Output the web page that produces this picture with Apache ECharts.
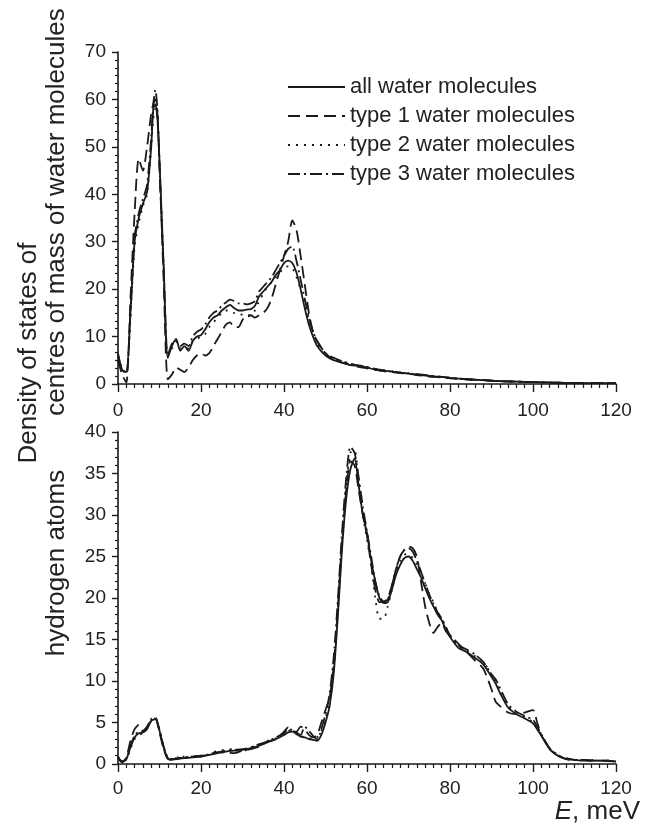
<!DOCTYPE html>
<html>
<head>
<meta charset="utf-8">
<script src="https://cdn.jsdelivr.net/npm/echarts@6/dist/echarts.min.js"></script>
<style>
html,body{margin:0;padding:0;background:#fff;}
#chart{width:651px;height:825px;}
</style>
</head>
<body>
<div id="chart"></div>
<script>
// ---------- DATA ----------
const seriesNames = ["all water molecules", "type 1 water molecules", "type 2 water molecules", "type 3 water molecules"];
const xTicks = [0, 20, 40, 60, 80, 100, 120];
const yTicksTop = [0, 10, 20, 30, 40, 50, 60, 70];
const yTicksBottom = [0, 5, 10, 15, 20, 25, 30, 35, 40];

// Top panel: centres of mass of water molecules
const E_top = [0,1,2,3,4,5,6,7,8,8.5,9,9.5,10,11,12,13,14,15,16,17,18,19,20,21,22,23,24,25,26,27,28,29,30,31,32,33,34,35,36,37,38,39,40,41,42,43,44,45,46,47,48,50,52,54,56,58,60,62,64,66,68,70,72,74,76,78,80,84,88,92,96,100,105,110,115,120];
const top_all = [6.5,3,2.5,15,30,35,38,40.5,50,58,59,56,47,25,5.5,8,9.5,7,8,7,9,10,10.3,11.5,13,14,14.5,15.5,16.2,16.7,16,15.5,15.5,15.7,15.8,16.5,18.5,19.5,20.5,21.5,23,24,25.5,26,25.5,23.5,20,16,12.5,10,8,6,5,4.5,4,3.8,3.5,3,2.8,2.6,2.4,2.2,2,1.8,1.6,1.5,1.3,1.0,0.8,0.6,0.5,0.4,0.3,0.2,0.2,0.2];
const top_type1 = [5,2,0.3,18,36,47.5,45,50,57,59,60,57,46,22,1,2,3.5,3,2.5,3.5,5,6,6.5,6,6.5,8,9.5,11,12.5,13,12,12,13.5,14.5,14.5,14,14.5,15,16,18,21,24,27,30,34.5,32.5,27,21,15,11,9,6.5,5,4.5,4,3.6,3.3,3,2.7,2.5,2.3,2.2,1.9,1.7,1.5,1.4,1.2,1.0,0.8,0.6,0.5,0.4,0.3,0.2,0.2,0.2];
const top_type2 = [6,3,2,14,29,34,37.5,40,50,56,58,56,47,25,6,7.5,9,7.5,7.5,7.5,9,9.5,10,10.5,12,13,14,15,15.5,15.5,15,15,14.5,14.2,14.5,15.5,17.5,19,20.5,21.5,22.5,23.5,24.5,24.8,24.5,22.5,20,17,13.5,11,8.5,6.5,5.2,4.7,4.2,3.9,3.5,3.2,2.9,2.7,2.4,2.3,2.0,1.8,1.6,1.5,1.3,1.0,0.8,0.6,0.5,0.4,0.3,0.2,0.2,0.2];
const top_type3 = [6,3,2.5,15,31,36,39,42,52,59,62,58,46,24,6,8.5,9,8,8.5,8,10,11,11.5,12.5,14,15,15.5,16.5,17.2,17.8,17.5,17,17,16.8,17,17.5,19.5,20.5,21.5,22.5,24,25.5,27,28.5,29,26,22,18,14,11,9,6.5,5.5,4.8,4.3,3.9,3.6,3.2,2.9,2.6,2.4,2.2,2.1,1.9,1.7,1.5,1.3,1.0,0.8,0.6,0.5,0.4,0.3,0.2,0.2,0.2];

// Bottom panel: hydrogen atoms
const E_bot = [0,1,2,3,4,5,6,7,8,9,10,11,12,13,14,16,18,20,22,24,26,28,30,32,34,36,38,40,41,42,43,44,45,46,47,48,49,50,51,52,53,54,55,56,57,58,59,60,61,62,63,64,65,66,67,68,69,70,71,72,73,74,75,76,77,78,79,80,82,84,86,88,90,91,92,94,96,98,100,101,102,103,104,106,108,110,112,114,116,118,120];
const bot_all = [0.8,0.3,0.6,2,3.2,3.7,3.8,4.2,5.2,5.4,4,2,0.7,0.5,0.6,0.7,0.8,0.9,1.1,1.3,1.5,1.6,1.7,1.9,2.2,2.6,3,3.5,3.8,3.9,3.6,3.3,3.2,3.0,2.9,2.8,3.5,5,7,11,18,26,32,35.5,36.8,33.5,30,27.8,24.5,22,20,19.4,19.5,21,22.8,24,24.8,25,24.5,23.5,22.5,21.2,20,19,18,17.3,16.2,15.3,14,13.5,12.8,12,10.5,9.7,8.6,6.8,6,5.5,4.9,4.2,3.4,2.6,1.8,1.0,0.6,0.5,0.4,0.4,0.4,0.35,0.3];
const bot_type1 = [0.7,0.2,0.8,2.8,4.2,4.7,4.0,4.5,5.3,5.5,3.8,1.8,0.6,0.5,0.8,0.7,1.0,0.9,1.2,1.4,1.4,1.3,1.6,1.8,2.1,2.7,3.0,3.9,4.4,4.0,3.9,4.5,4.2,3.5,3.2,3.5,5,6.5,8,12,19,27,33,36.5,36,33,30,27.5,24,21,19.5,19.5,20,21.5,23.5,25,25.8,26.2,26,25,22,19,17,15.8,16.5,17,16,15.5,14.5,13.5,12.5,11.5,9,7.5,7,6.2,6,6.2,6.5,5,3.5,2.6,1.8,1.0,0.7,0.5,0.5,0.4,0.4,0.4,0.3];
const bot_type2 = [0.9,0.4,0.5,1.8,3.0,3.5,3.7,4.3,5.2,5.5,4.2,2,0.7,0.6,0.7,0.9,0.9,1.0,1.2,1.6,1.7,1.8,1.5,2.0,2.3,2.8,3.1,3.6,3.9,4.2,3.7,3.4,3.2,3.1,3.0,3.2,4,5.5,7.5,11.5,18.5,27,33.5,37.5,37.8,34,30,27,24,20,17.5,17.5,19,21,23,24.5,25.2,25.3,24.8,24,23,21.8,20.5,19.5,18.3,17.5,16.5,15.5,14.2,13.6,13,12.3,10.8,10,9,7,6.2,5.7,5,4.4,3.6,2.7,1.9,1.0,0.6,0.5,0.5,0.5,0.4,0.4,0.3];
const bot_type3 = [0.8,0.3,0.6,2.2,3.4,3.9,3.9,4.4,5.4,5.6,4.1,2.1,0.8,0.6,0.6,0.8,0.9,1.0,1.1,1.4,1.6,1.7,1.8,2.0,2.4,2.7,3.2,3.7,4.2,4.1,3.8,3.5,4.5,4.0,3.4,3.0,4.2,6,8.5,13,20,28,34.5,38.2,37.5,34.5,31,28,25,22,20.2,19.6,19.8,21.5,23.5,25,25.8,26,25.6,24.5,23.2,21.8,20.4,19.3,18.3,17.5,16.5,15.5,14.3,13.8,13.2,12.3,10.8,10.2,9.2,7.2,6.3,5.8,5.3,4.5,3.6,2.7,1.9,1.1,0.6,0.5,0.5,0.4,0.4,0.4,0.3];

// ---------- CHART ----------
const FONT = "'Liberation Sans', Arial, Helvetica, sans-serif";
const INK = '#1a1a1a';
const dashes = ['solid', [12, 6], [2, 6], [12, 4, 2, 4]];

function zip(xs, ys) { return xs.map((x, i) => [x, ys[i]]); }

const topSets = [top_all, top_type1, top_type2, top_type3];
const botSets = [bot_all, bot_type1, bot_type2, bot_type3];

function makeX(gridIndex, margin) {
  return {
    type: 'value', gridIndex: gridIndex, min: 0, max: 120, interval: 20,
    axisLine: { show: true, onZero: false, lineStyle: { color: INK, width: 1.6 } },
    axisTick: { show: true, inside: false, length: 8, lineStyle: { color: INK, width: 1.4 } },
    minorTick: { show: true, splitNumber: 10, length: 4, lineStyle: { color: INK, width: 1.2 } },
    splitLine: { show: false },
    axisLabel: { show: true, margin: margin, fontFamily: FONT, fontSize: 19, color: '#222',
      formatter: v => xTicks.includes(v) ? String(v) : '' }
  };
}
function makeY(gridIndex, max, interval, minorSplit, ticks) {
  return {
    type: 'value', gridIndex: gridIndex, min: 0, max: max, interval: interval,
    axisLine: { show: true, onZero: false, lineStyle: { color: INK, width: 1.6 } },
    axisTick: { show: true, inside: false, length: 6, lineStyle: { color: INK, width: 1.4 } },
    minorTick: { show: true, splitNumber: minorSplit, length: 3, lineStyle: { color: INK, width: 1.2 } },
    splitLine: { show: false },
    axisLabel: { show: true, margin: 12, fontFamily: FONT, fontSize: 19, color: '#222',
      formatter: v => ticks.includes(v) ? String(v) : '' }
  };
}

const series = [];
seriesNames.forEach((name, k) => {
  series.push({
    name: name, type: 'line', xAxisIndex: 0, yAxisIndex: 0,
    data: zip(E_top, topSets[k]), symbol: 'none', smooth: 0.25,
    lineStyle: { color: INK, width: 1.8, type: dashes[k] }, itemStyle: { color: INK },
    z: 10 - k, animation: false
  });
});
seriesNames.forEach((name, k) => {
  series.push({
    name: name, type: 'line', xAxisIndex: 1, yAxisIndex: 1,
    data: zip(E_bot, botSets[k]), symbol: 'none', smooth: 0.25,
    lineStyle: { color: INK, width: 1.8, type: dashes[k] }, itemStyle: { color: INK },
    z: 10 - k, animation: false
  });
});

const chart = echarts.init(document.getElementById('chart'), null, { renderer: 'canvas' });
chart.setOption({
  backgroundColor: '#ffffff',
  animation: false,
  grid: [
    { left: 118, top: 52, width: 498, height: 332, containLabel: false },
    { left: 118, top: 432, width: 498, height: 332, containLabel: false }
  ],
  xAxis: [makeX(0, 17), makeX(1, 15)],
  yAxis: [makeY(0, 70, 10, 6, yTicksTop), makeY(1, 40, 5, 5, yTicksBottom)],
  legend: {
    show: true, orient: 'vertical', left: 282, top: 71, itemGap: 7,
    itemWidth: 57, itemHeight: 14,
    data: seriesNames,
    itemStyle: { opacity: 0, borderWidth: 0 },
    textStyle: { fontFamily: FONT, fontSize: 22, color: '#222', padding: [0, 0, 0, 0] },
    selectedMode: false
  },
  graphic: [
    { type: 'text', x: 29, y: 353, rotation: Math.PI / 2,
      style: { text: 'Density of states of', font: '26px ' + FONT, fill: '#222', align: 'center', verticalAlign: 'middle' } },
    { type: 'text', x: 57, y: 212, rotation: Math.PI / 2,
      style: { text: 'centres of mass of water molecules', font: '26px ' + FONT, fill: '#222', align: 'center', verticalAlign: 'middle' } },
    { type: 'text', x: 57, y: 563, rotation: Math.PI / 2,
      style: { text: 'hydrogen atoms', font: '26px ' + FONT, fill: '#222', align: 'center', verticalAlign: 'middle' } },
    { type: 'text', x: 640, y: 799,
      style: { text: '{i|E}, meV', font: '26px ' + FONT, fill: '#222', align: 'right', verticalAlign: 'top',
        rich: { i: { fontStyle: 'italic', fontFamily: FONT, fontSize: 26, fill: '#222' } } } }
  ],
  series: series
});
</script>
</body>
</html>
